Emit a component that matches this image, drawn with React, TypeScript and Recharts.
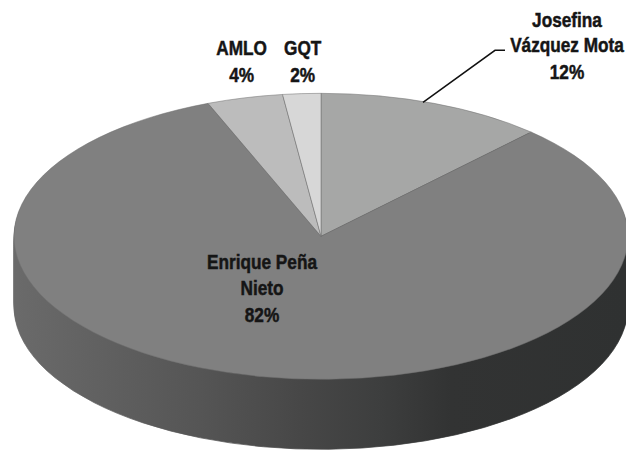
import React from 'react'
import { PieChart, Pie, Cell } from 'recharts'

const CATEGORIES = ['Josefina Vázquez Mota', 'Enrique Peña Nieto', 'AMLO', 'GQT']
const SHARES = [12, 82, 4, 2]
const LABEL_LINES = [['Josefina', 'Vázquez Mota'], ['Enrique Peña', 'Nieto'], ['AMLO'], ['GQT']]

const COLORS = ['#a6a7a6', '#808080', '#bcbcbc', '#d7d7d7']

// 3D look: squash the chart vertically and stack darker copies underneath
const W = 626
const RX = 307
const RY = 143
const K = RY / RX
const CX = 316
const CY = 234 // screen px
const DEPTH = 70 // screen px
const H = Math.ceil(450 / K)

const data = CATEGORIES.map((name, i) => ({ name, value: SHARES[i] }))
const layers = Array.from({ length: DEPTH / 2 }, (_, i) => DEPTH - i * 2)

// label placement per slice: anchor radius fraction + offsets in screen px
const LABEL_POS = [
  { rf: 1, dx: 133, dy: [-76, -51, -24], leader: true },
  { rf: 0, dx: -59, dy: [33, 59, 86], leader: false },
  { rf: 1, dx: -3, dy: [-43, -16], leader: false },
  { rf: 1, dx: 1, dy: [-39, -12], leader: false },
]

const FONT = "'Liberation Sans', Arial, sans-serif"
const NARROW = 0.82

const renderLabel = (props: any) => {
  const { cx, cy, midAngle, outerRadius, index, percent } = props
  const pos = LABEL_POS[index]
  const rad = (midAngle * Math.PI) / 180
  const ax = cx + outerRadius * pos.rf * Math.cos(rad)
  const ay = cy - outerRadius * pos.rf * Math.sin(rad)
  const lines = [...LABEL_LINES[index], `${Math.round(percent * 100)}%`]
  return (
    <g key={`lbl-${index}`} transform={`translate(${ax},${ay}) scale(1,${1 / K})`}>
      {pos.leader && (
        <polyline points="-11,-1 61,-53 71,-53" fill="none" stroke="#111" strokeWidth={1.5} />
      )}
      {lines.map((t, j) => (
        <text
          key={j}
          transform={`translate(${pos.dx},${pos.dy[j]}) scale(${NARROW},1)`}
          x={0}
          y={0}
          textAnchor="middle"
          fontFamily={FONT}
          fontWeight="bold"
          fontSize={21}
          fill="#151515"
          stroke="#151515"
          strokeWidth={0.5}
        >
          {t}
        </text>
      ))}
    </g>
  )
}

export default function App() {
  return (
    <div style={{ position: 'absolute', left: 0, top: 0, width: W, height: 450, overflow: 'hidden', background: '#fff' }}>
      <div style={{ width: W, height: H, transform: `scaleY(${K})`, transformOrigin: '0 0' }}>
        <PieChart width={W} height={H}>
          <defs>
            <linearGradient id="side" gradientUnits="userSpaceOnUse" x1={0} y1={0} x2={W} y2={0}>
              <stop offset="0" stopColor="#6c6c6c" />
              <stop offset="0.32" stopColor="#555555" />
              <stop offset="0.48" stopColor="#474747" />
              <stop offset="0.61" stopColor="#3d3e3e" />
              <stop offset="0.72" stopColor="#323333" />
              <stop offset="1" stopColor="#2f3131" />
            </linearGradient>
          </defs>
          {layers.map((d) => (
            <Pie
              key={`side-${d}`}
              data={data}
              dataKey="value"
              nameKey="name"
              cx={CX}
              cy={(CY + d) / K}
              outerRadius={RX}
              startAngle={90}
              endAngle={-270}
              fill="url(#side)"
              stroke="url(#side)"
              strokeWidth={1}
              isAnimationActive={false}
            />
          ))}
          <Pie
            data={data}
            dataKey="value"
            nameKey="name"
            cx={CX}
            cy={CY / K}
            outerRadius={RX}
            startAngle={90}
            endAngle={-270}
            stroke="#707070"
            strokeWidth={0.7}
            label={renderLabel}
            labelLine={false}
            isAnimationActive={false}
          >
            {data.map((_, i) => (
              <Cell key={i} fill={COLORS[i]} />
            ))}
          </Pie>
        </PieChart>
      </div>
    </div>
  )
}
